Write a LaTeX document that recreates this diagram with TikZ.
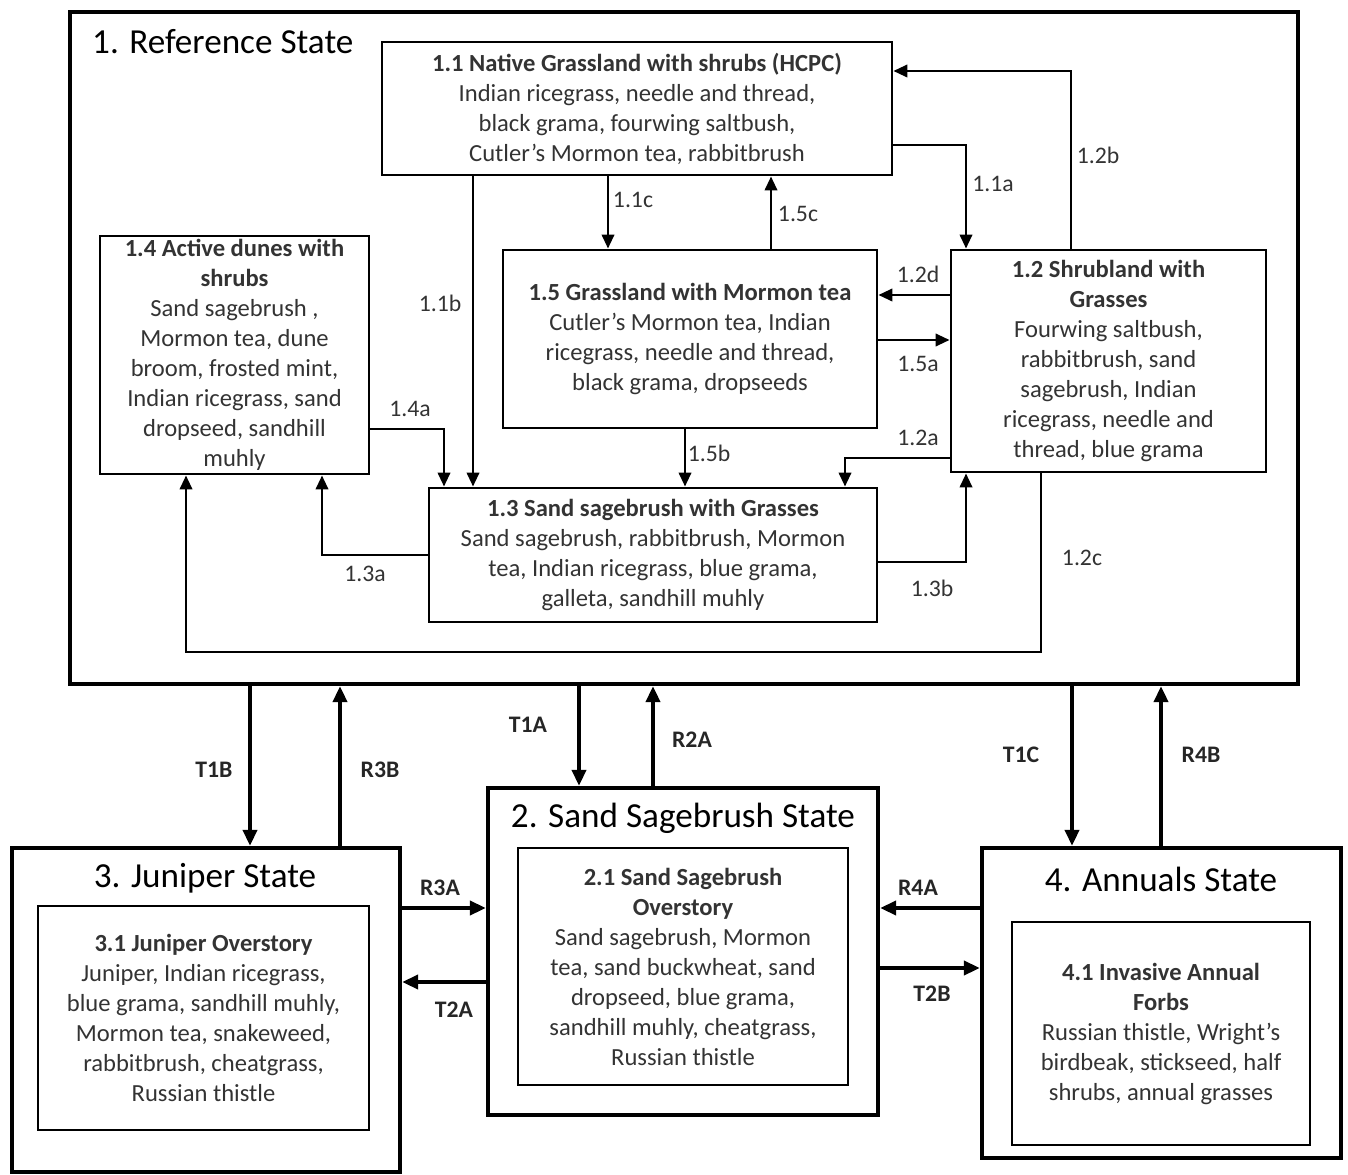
\documentclass[tikz,border=0pt]{standalone}
\usepackage{fontspec}
\setmainfont{Carlito}
\usetikzlibrary{arrows.meta, positioning, calc}

\tikzset{
  statebox/.style={draw, line width=2.6pt, inner sep=0pt},
  phasebox/.style={draw, line width=1.6pt, align=center, inner sep=0pt,
    font=\fontsize{14}{17.07}\selectfont, text=black!80},
  statetitle/.style={font=\fontsize{20}{24}\selectfont},
  lbl/.style={font=\fontsize{13.5}{15}\selectfont, text=black!80},
  tlbl/.style={font=\bfseries\fontsize{13.5}{15}\selectfont, text=black!85},
  trans/.style={line width=1.6pt, -{Triangle[length=8pt,width=7pt]}},
  pathway/.style={line width=2pt, -{Triangle[length=9pt,width=8pt]}},
}

\begin{document}
\begin{tikzpicture}[x=0.02cm, y=-0.02cm]
  \useasboundingbox (0,0) rectangle (1348,1175);

  % State boxes
  \node[statebox, minimum width=24.56cm, minimum height=13.44cm] (s1) at (684,348) {};
  \node[statebox, minimum width=7.8cm,  minimum height=6.54cm] (s2) at (683,951.5) {};
  \node[statebox, minimum width=7.76cm, minimum height=6.48cm] (s3) at (206,1010) {};
  \node[statebox, minimum width=7.18cm, minimum height=6.2cm]  (s4) at (1161.5,1003) {};

  % State titles
  \node[statetitle, anchor=west] (t1) at (86,42) {1. Reference State};
  \node[statetitle] (t2) at (683,818) {2. Sand Sagebrush State};
  \node[statetitle] (t3) at (205,878) {3. Juniper State};
  \node[statetitle] (t4) at (1161,879) {4. Annuals State};

  % Reference state phases
  \node[phasebox, minimum width=10.2cm, minimum height=2.66cm] (n11) at (637,108.5)
    {\textbf{1.1 Native Grassland  with shrubs (HCPC)}\\Indian ricegrass, needle and thread,\\
     black grama, fourwing saltbush,\\Cutler’s Mormon tea,  rabbitbrush};
  \node[phasebox, minimum width=5.38cm, minimum height=4.76cm] (n14) at (234.5,355)
    {\textbf{1.4 Active dunes with}\\\textbf{shrubs}\\Sand sagebrush ,\\Mormon tea, dune\\
     broom, frosted mint,\\Indian ricegrass,  sand\\dropseed, sandhill\\muhly};
  \node[phasebox, minimum width=7.48cm, minimum height=3.56cm] (n15) at (690,339)
    {\textbf{1.5 Grassland  with Mormon tea}\\Cutler’s Mormon tea, Indian\\
     ricegrass, needle and thread,\\black grama,  dropseeds};
  \node[phasebox, minimum width=6.3cm, minimum height=4.44cm] (n12) at (1108.5,361)
    {\textbf{1.2 Shrubland with}\\\textbf{Grasses}\\Fourwing saltbush,\\rabbitbrush, sand\\
     sagebrush, Indian\\ricegrass, needle and\\thread, blue grama};
  \node[phasebox, minimum width=8.96cm, minimum height=2.68cm] (n13) at (653,555)
    {\textbf{1.3 Sand sagebrush  with Grasses}\\Sand sagebrush, rabbitbrush, Mormon\\
     tea, Indian ricegrass,  blue grama,\\galleta, sandhill muhly};

  % Other state phases
  \node[phasebox, minimum width=6.6cm, minimum height=4.74cm] (n21) at (683,966.5)
    {\textbf{2.1 Sand Sagebrush}\\\textbf{Overstory}\\Sand sagebrush, Mormon\\
     tea, sand buckwheat, sand\\dropseed, blue grama,\\sandhill muhly,  cheatgrass,\\Russian thistle};
  \node[phasebox, minimum width=6.62cm, minimum height=4.48cm] (n31) at (203.5,1018)
    {\textbf{3.1 Juniper Overstory}\\Juniper, Indian ricegrass,\\blue grama, sandhill muhly,\\
     Mormon tea, snakeweed,\\rabbitbrush, cheatgrass,\\Russian thistle};
  \node[phasebox, minimum width=5.96cm, minimum height=4.46cm] (n41) at (1161,1033.5)
    {\textbf{4.1 Invasive Annual}\\\textbf{Forbs}\\Russian thistle,  Wright’s\\
     birdbeak,  stickseed, half\\shrubs, annual grasses};

  % Community pathways
  \draw[trans] (n11.south -| 473,0) -- (n13.north -| 473,0);
  \draw[trans] (n11.south -| 608,0) -- (n15.north -| 608,0);
  \draw[trans] (n15.north -| 771,0) -- (n11.south -| 771,0);
  \draw[trans] (n11.east |- 0,145) -| (n12.north -| 966,0);
  \draw[trans] (n12.north -| 1071,0) |- (n11.east |- 0,71);
  \draw[trans] (n12.west |- 0,295) -- (n15.east |- 0,295);
  \draw[trans] (n15.east |- 0,340) -- (n12.west |- 0,340);
  \draw[trans] (n12.west |- 0,458) -| (n13.north -| 845,0);
  \draw[trans] (n15.south -| 685,0) -- (n13.north -| 685,0);
  \draw[trans] (n14.east |- 0,429) -| (n13.north -| 444,0);
  \draw[trans] (n13.west |- 0,555) -| (n14.south -| 322,0);
  \draw[trans] (n13.east |- 0,562) -| (n12.south -| 966,0);
  \draw[trans] (n12.south -| 1041,0) -- (1041,652) -| (n14.south -| 186,0);

  % Pathway labels
  \node[lbl] (l11b) at (440,303) {1.1b};
  \node[lbl] (l11c) at (633,200) {1.1c};
  \node[lbl] (l15c) at (798,214) {1.5c};
  \node[lbl] (l11a) at (993,184) {1.1a};
  \node[lbl] (l12b) at (1098,155) {1.2b};
  \node[lbl] (l12d) at (918,274) {1.2d};
  \node[lbl] (l15a) at (918,364) {1.5a};
  \node[lbl] (l12a) at (918,438) {1.2a};
  \node[lbl] (l15b) at (709,453) {1.5b};
  \node[lbl] (l14a) at (410,409) {1.4a};
  \node[lbl] (l13a) at (365,574) {1.3a};
  \node[lbl] (l13b) at (932,588) {1.3b};
  \node[lbl] (l12c) at (1082,558) {1.2c};

  % Transitions and restorations
  \draw[pathway] (s1.south -| 250,0) -- (s3.north -| 250,0);
  \draw[pathway] (s3.north -| 340,0) -- (s1.south -| 340,0);
  \draw[pathway] (s1.south -| 579,0) -- (s2.north -| 579,0);
  \draw[pathway] (s2.north -| 653,0) -- (s1.south -| 653,0);
  \draw[pathway] (s1.south -| 1072,0) -- (s4.north -| 1072,0);
  \draw[pathway] (s4.north -| 1161,0) -- (s1.south -| 1161,0);
  \draw[pathway] (s3.east |- 0,908) -- (s2.west |- 0,908);
  \draw[pathway] (s2.west |- 0,982) -- (s3.east |- 0,982);
  \draw[pathway] (s4.west |- 0,908) -- (s2.east |- 0,908);
  \draw[pathway] (s2.east |- 0,968) -- (s4.west |- 0,968);

  \node[tlbl] (lT1B) at (214,770) {T1B};
  \node[tlbl] (lR3B) at (380,770) {R3B};
  \node[tlbl] (lT1A) at (528,725) {T1A};
  \node[tlbl] (lR2A) at (692,740) {R2A};
  \node[tlbl] (lT1C) at (1021,755) {T1C};
  \node[tlbl] (lR4B) at (1201,755) {R4B};
  \node[tlbl] (lR3A) at (440,888) {R3A};
  \node[tlbl] (lT2A) at (454,1010) {T2A};
  \node[tlbl] (lR4A) at (918,888) {R4A};
  \node[tlbl] (lT2B) at (932,994) {T2B};
\end{tikzpicture}
\end{document}
